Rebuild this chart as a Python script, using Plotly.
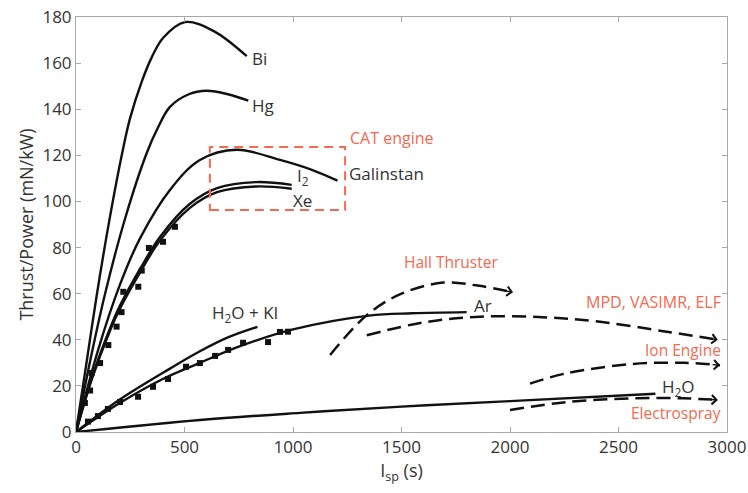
import plotly.graph_objects as go
import math

# ---- data ----
bi_x = [0, 50, 95, 154, 215, 249, 303, 349, 402, 502, 633, 787]
bi_y = [0, 31, 59, 92, 122, 136, 152, 162.5, 171, 177.8, 174, 163]

hg_x = [0, 70, 134, 226, 326, 375, 433, 520, 602, 700, 794]
hg_y = [0, 33, 60, 92.5, 121, 131.5, 141, 146.5, 148, 146.5, 143.7]

gal_x = [0, 100, 203, 295, 433, 571, 740, 940, 1090, 1205]
gal_y = [0, 35, 64, 84, 105, 118, 122.4, 118, 113.6, 109]

xe_x = [0, 72, 157, 200, 300, 387, 525, 650, 830, 994]
xe_y = [0, 22.6, 44, 53, 70, 83, 97.2, 104, 106.5, 105.5]

i2_x = [0, 72, 157, 200, 300, 387, 525, 650, 830, 994]
i2_y = [0, 23.2, 45, 54.3, 71.5, 84.6, 99, 105.8, 108.4, 107.2]

xe_meas_x = [41, 65, 72, 111, 149, 187, 210, 218, 287, 303, 336, 401, 456]
xe_meas_y = [12.6, 18, 25.6, 29.9, 37.7, 45.7, 52, 60.8, 63, 70, 79.8, 82.5, 89]

kI_x = [0, 200, 433, 571, 700, 836]
kI_y = [0, 14, 27.5, 35, 41, 45.6]

ar_x = [0, 200, 400, 571, 750, 1000, 1350, 1550, 1800]
ar_y = [0, 12.5, 23, 30, 37, 44.5, 50.5, 51.5, 52]

ar_meas_x = [55, 101, 147, 203, 286, 355, 424, 507, 571, 641, 701, 770, 885, 940, 977]
ar_meas_y = [4.5, 6.9, 10, 13, 15.3, 19.6, 23, 28.3, 29.9, 33, 35.6, 38.7, 39, 43.4, 43.5]

h2o_x = [0, 571, 1032, 1500, 2000, 2670]
h2o_y = [0, 5.2, 8.3, 11, 13.4, 16.6]

hall_x = [1171, 1340, 1500, 1692, 1850, 2014]
hall_y = [33.4, 50.7, 60, 64.8, 63.5, 60.6]

mpd_x = [1340, 1600, 1862, 2150, 2415, 2722, 2958]
mpd_y = [42, 47.5, 50, 49.8, 47.8, 43.5, 40]

ion_x = [2092, 2261, 2567, 2800, 2968]
ion_y = [21, 25.5, 29.5, 30, 29]

es_x = [2000, 2261, 2567, 2800, 2958]
es_y = [9.5, 13, 14.6, 14.6, 13.9]

cat_box_x = [617, 1240]
cat_box_y = [96.3, 123.6]

X_RANGE = [0, 3000]
Y_RANGE = [0, 180]

# ---- figure ----
W, H = 748, 493
ML, MR, MT, MB = 76, 21, 17, 61
RED = "#f4694f"
TXT = "#333333"
FONT = "Open Sans"

fig = go.Figure()

solid = dict(color="#111111", width=2.4, shape="spline", smoothing=1.0)
for xs, ys in [(bi_x, bi_y), (hg_x, hg_y), (gal_x, gal_y), (i2_x, i2_y),
               (xe_x, xe_y), (kI_x, kI_y), (ar_x, ar_y), (h2o_x, h2o_y)]:
    fig.add_trace(go.Scatter(x=xs, y=ys, mode="lines", line=solid,
                             showlegend=False, hoverinfo="skip"))

for xs, ys in [(xe_meas_x, xe_meas_y), (ar_meas_x, ar_meas_y)]:
    fig.add_trace(go.Scatter(x=xs, y=ys, mode="markers",
                             marker=dict(symbol="square", size=6, color="#111111"),
                             showlegend=False, hoverinfo="skip"))

dashed = dict(color="#111111", width=2.5, dash="14px,7px", shape="spline", smoothing=1.0)
pw = W - ML - MR
ph = H - MT - MB
for xs, ys in [(hall_x, hall_y), (mpd_x, mpd_y), (ion_x, ion_y), (es_x, es_y)]:
    fig.add_trace(go.Scatter(x=xs, y=ys, mode="lines", line=dashed,
                             showlegend=False, hoverinfo="skip"))
    # arrowhead at the end, pointing along the last segment
    dx = (xs[-1] - xs[-2]) / (X_RANGE[1] - X_RANGE[0]) * pw
    dy = -(ys[-1] - ys[-2]) / (Y_RANGE[1] - Y_RANGE[0]) * ph
    n = math.hypot(dx, dy)
    L = 9
    fig.add_annotation(x=xs[-1], y=ys[-1], ax=-dx / n * L, ay=-dy / n * L,
                       showarrow=True, arrowhead=4, arrowsize=1.3, arrowwidth=1.4,
                       arrowcolor="#111111", text="")

fig.add_shape(type="rect", x0=cat_box_x[0], x1=cat_box_x[1],
              y0=cat_box_y[0], y1=cat_box_y[1],
              line=dict(color=RED, width=2, dash="9px,6px"))

labels = [
    ("Bi", 802, 162, "left", TXT, 17),
    ("Hg", 802, 141.7, "left", TXT, 17),
    ("Galinstan", 1249, 112.3, "left", TXT, 17),
    ("I<sub>2</sub>", 1010, 110.8, "left", TXT, 17),
    ("Xe", 989, 100.6, "left", TXT, 17),
    ("H<sub>2</sub>O + KI", 617, 51.3, "left", TXT, 17),
    ("Ar", 1823, 54.8, "left", TXT, 17),
    ("H<sub>2</sub>O", 2690, 19.3, "left", TXT, 17),
    ("CAT engine", 1252, 127.5, "left", RED, 16),
    ("Hall Thruster", 1728, 73.7, "center", RED, 15.5),
    ("MPD, VASIMR, ELF", 2980, 56.4, "right", RED, 16),
    ("Ion Engine", 2980, 35.6, "right", RED, 15.5),
    ("Electrospray", 2980, 8.2, "right", RED, 15.5),
]
for t, x, y, anc, col, sz in labels:
    fig.add_annotation(x=x, y=y, text=t, showarrow=False, xanchor=anc,
                       yanchor="middle", font=dict(family=FONT, size=sz, color=col))

axis_common = dict(showgrid=False, zeroline=False, showline=True, linecolor="#a8a8a8",
                   linewidth=1, mirror="ticks", ticks="inside", ticklen=5,
                   tickcolor="#a8a8a8", automargin=False,
                   tickfont=dict(family=FONT, size=17, color=TXT))

fig.update_xaxes(range=X_RANGE, dtick=500, tick0=0,
                 title=dict(text="I<sub>sp</sub> (s)", font=dict(family=FONT, size=18, color=TXT),
                            standoff=0),
                 **axis_common)
fig.update_yaxes(range=Y_RANGE, dtick=20, tick0=0,
                 title=dict(text="Thrust/Power (mN/kW)", font=dict(family=FONT, size=18, color=TXT),
                            standoff=4),
                 **axis_common)

fig.update_layout(width=W, height=H, margin=dict(l=ML, r=MR, t=MT, b=MB),
                  plot_bgcolor="white", paper_bgcolor="white")

fig.write_html("out.html")
